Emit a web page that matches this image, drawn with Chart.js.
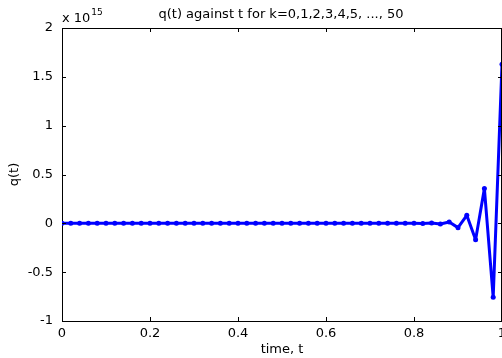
<!DOCTYPE html>
<html>
<head>
<meta charset="utf-8">
<script src="https://cdn.jsdelivr.net/npm/chart.js@4/dist/chart.umd.min.js"></script>
<style>
html,body{margin:0;padding:0;background:#fff;overflow:hidden;width:502px;height:358px;}
canvas{display:block;}
</style>
</head>
<body>
<canvas id="c" width="564" height="358"></canvas>
<script>
// time values t = k/50, k = 0..50
const tValues = [0,0.02,0.04,0.06,0.08,0.1,0.12,0.14,0.16,0.18,0.2,0.22,0.24,0.26,0.28,0.3,0.32,0.34,0.36,0.38,0.4,0.42,0.44,0.46,0.48,0.5,0.52,0.54,0.56,0.58,0.6,0.62,0.64,0.66,0.68,0.7,0.72,0.74,0.76,0.78,0.8,0.82,0.84,0.86,0.88,0.9,0.92,0.94,0.96,0.98,1.0];
// q(t) in units of 1e15
const qValues = [0,0,0,0,0,0,0,0,0,0,0,0,0,0,0,0,0,0,0,0,0,0,0,0,0,0,0,0,0,0,0,0,0,0,0,0,0,0,0,0,0,-0.001,0.003,-0.006,0.013,-0.044,0.082,-0.168,0.356,-0.757,1.63];
const xTickValues = [0,0.2,0.4,0.6,0.8,1];
const yTickValues = [-1,-0.5,0,0.5,1,1.5,2];
const titleText = 'q(t) against t for k=0,1,2,3,4,5, ..., 50';
const xLabel = 'time, t';
const yLabel = 'q(t)';

const FONT = '"DejaVu Sans", sans-serif';
const FS = 13;

const decor = {
  id: 'decor',
  afterDraw(chart) {
    const ctx = chart.ctx;
    const a = chart.chartArea;
    const xs = chart.scales.x, ys = chart.scales.y;
    ctx.save();
    ctx.strokeStyle = '#000';
    ctx.lineWidth = 1;
    ctx.beginPath();
    ctx.moveTo(a.left, Math.round(a.top) + 0.5);
    ctx.lineTo(a.right, Math.round(a.top) + 0.5);
    ctx.moveTo(Math.round(a.right) - 0.5, a.top);
    ctx.lineTo(Math.round(a.right) - 0.5, a.bottom);
    const tl = 4;
    xTickValues.forEach(v => {
      const px = Math.round(xs.getPixelForValue(v)) + 0.5;
      ctx.moveTo(px, a.bottom); ctx.lineTo(px, a.bottom - tl);
      ctx.moveTo(px, a.top); ctx.lineTo(px, a.top + tl);
    });
    yTickValues.forEach(v => {
      const py = Math.round(ys.getPixelForValue(v)) + 0.5;
      ctx.moveTo(a.left, py); ctx.lineTo(a.left + tl, py);
      ctx.moveTo(a.right, py); ctx.lineTo(a.right - tl, py);
    });
    ctx.stroke();
    ctx.fillStyle = '#000';
    ctx.font = FS + 'px ' + FONT;
    ctx.textAlign = 'center';
    ctx.textBaseline = 'alphabetic';
    ctx.fillText(titleText, 281, 18);
    ctx.textAlign = 'left';
    ctx.fillText('x 10', 62, 22);
    const w = ctx.measureText('x 10').width;
    ctx.font = '9px ' + FONT;
    ctx.fillText('15', 62 + w + 1, 15);
    ctx.restore();
  }
};

new Chart(document.getElementById('c'), {
  type: 'line',
  data: {
    datasets: [{
      data: tValues.map((t, i) => ({x: t, y: qValues[i]})),
      borderColor: '#0000ff',
      backgroundColor: '#0000ff',
      borderWidth: 3,
      borderJoinStyle: 'round',
      borderCapStyle: 'round',
      pointRadius: 2.5,
      pointBorderWidth: 0,
      pointBackgroundColor: '#0000ff',
      tension: 0,
      fill: false
    }]
  },
  options: {
    responsive: false,
    animation: false,
    devicePixelRatio: 1,
    layout: {padding: {top: 28, right: 62, bottom: 0, left: 0}},
    plugins: {legend: {display: false}, tooltip: {enabled: false}, title: {display: false}},
    scales: {
      x: {
        type: 'linear', min: 0, max: 1,
        grid: {display: false, drawTicks: false},
        border: {display: true, color: '#000', width: 1},
        afterBuildTicks: s => { s.ticks = xTickValues.map(v => ({value: v})); },
        afterFit: s => { s.height = 37; },
        ticks: {color: '#000', font: {family: FONT, size: FS}, padding: 5, maxRotation: 0, autoSkip: false,
          callback: v => String(v)},
        title: {display: true, text: xLabel, color: '#000', font: {family: FONT, size: FS}, padding: {top: 0, bottom: 1}}
      },
      y: {
        type: 'linear', min: -1, max: 2,
        grid: {display: false, drawTicks: false},
        border: {display: true, color: '#000', width: 1},
        afterBuildTicks: s => { s.ticks = yTickValues.map(v => ({value: v})); },
        afterFit: s => { s.width = 62; },
        ticks: {color: '#000', font: {family: FONT, size: FS}, padding: 9, autoSkip: false,
          callback: v => String(v)},
        title: {display: true, text: yLabel, color: '#000', font: {family: FONT, size: FS}, padding: {top: 7, bottom: 0}}
      }
    }
  },
  plugins: [decor]
});
</script>
</body>
</html>
